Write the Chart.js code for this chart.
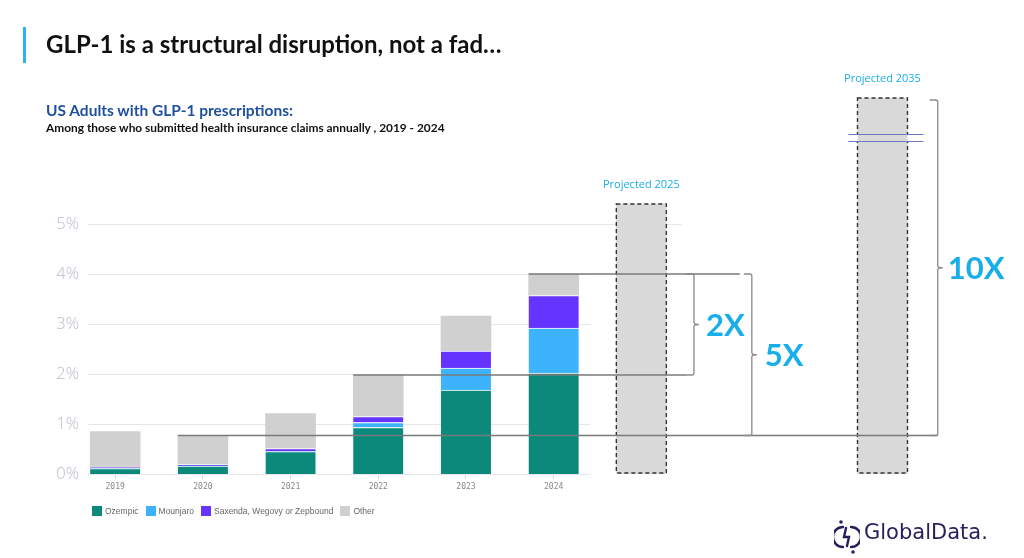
<!DOCTYPE html>
<html>
<head>
<meta charset="utf-8">
<script src="https://cdn.jsdelivr.net/npm/chart.js@4.4.1/dist/chart.umd.min.js"></script>
<style>
  html, body { margin: 0; padding: 0; background: #fff; }
  #wrap { position: relative; width: 1024px; height: 558px; overflow: hidden; }
  #chart { position: absolute; left: 0; top: 0; }
  .accent { position: absolute; left: 23px; top: 27px; width: 3px; height: 36px; background: #2bb3f5; }
  h1 { position: absolute; left: 46px; top: 29px; margin: 0; font: 700 24px Lato, sans-serif; color: #111; white-space: nowrap; }
  h2 { position: absolute; left: 46px; top: 101px; margin: 0; font: 700 15.5px Lato, sans-serif; color: #1f4f9f; white-space: nowrap; }
  h3 { position: absolute; left: 46px; top: 120px; margin: 0; font: 700 11.9px Lato, sans-serif; color: #111; white-space: nowrap; }
  #legend { position: absolute; left: 92px; top: 506px; display: flex; gap: 7px; font: 8.5px "Liberation Sans", Arial, sans-serif; color: #666; }
  #legend span { display: flex; align-items: center; }
  #legend i { display: inline-block; width: 10px; height: 10px; margin-right: 3px; }
  #logo { position: absolute; left: 834px; top: 519px; }
  #logoText { position: absolute; left: 864px; top: 520px; font: 21px "DejaVu Sans", sans-serif; color: #2a1d5c; }
</style>
</head>
<body>
<div id="wrap">
  <canvas id="chart" width="1024" height="558"></canvas>
  <div class="accent"></div>
  <h1>GLP-1 is a structural disruption, not a fad…</h1>
  <h2>US Adults with GLP-1 prescriptions:</h2>
  <h3>Among those who submitted health insurance claims annually , 2019 - 2024</h3>
  <div id="legend"></div>
  <svg id="logo" width="26" height="36" viewBox="0 0 26 36">
    <g fill="none" stroke="#2a1d5c" stroke-width="2.4" stroke-linecap="round">
      <path d="M9 8 A10 10 0 0 0 9 28"/>
      <path d="M17 8 A10 10 0 0 1 17 28"/>
      <path d="M12 9 L10 18 L15 18 L13 27"/>
    </g>
    <circle cx="7" cy="3" r="1.8" fill="#2a1d5c"/>
    <circle cx="19" cy="33" r="1.8" fill="#2a1d5c"/>
  </svg>
  <div id="logoText">GlobalData.</div>
</div>
<script>
// values, % of US adults
const years = [2019, 2020, 2021, 2022, 2023, 2024];
const ozempic = [0.11, 0.16, 0.45, 0.93, 1.68, 2.02];
const mounjaro = [0, 0, 0, 0.10, 0.44, 0.90];
const saxenda = [0.03, 0.03, 0.06, 0.12, 0.34, 0.65];
const other = [0.71, 0.58, 0.70, 0.83, 0.70, 0.43];

const seriesNames = ['Ozempic', 'Mounjaro', 'Saxenda, Wegovy or Zepbound', 'Other'];
const seriesColors = ['#0b8a7c', '#3db3fd', '#6634ff', '#d0d0d0'];

// projections (2035 sits closer in, the axis is broken there)
const projLabels = ['Projected 2025', 'Projected 2035'];
const projSlots = [2025, 2027.75];
const projValues = [5.4, 7.52];

const yTicks = [0, 1, 2, 3, 4, 5];

const blue = '#17aeea';
const bracketGray = '#8a8a8a';

// legend
const legend = document.getElementById('legend');
seriesNames.forEach((n, i) => {
    legend.innerHTML += '<span><i style="background:' + seriesColors[i] + '"></i>' + n + '</span>';
});

const seriesData = [ozempic, mounjaro, saxenda, other];
const totals = years.map((y, i) => seriesData.reduce((s, arr) => s + arr[i], 0));

function drawBracket(ctx, x, yTop, yBot) {
    const mid = (yTop + yBot) / 2;
    ctx.beginPath();
    ctx.moveTo(x - 8, yTop);
    ctx.lineTo(x - 2, yTop);
    ctx.quadraticCurveTo(x, yTop, x, yTop + 2);
    ctx.lineTo(x, mid - 2);
    ctx.quadraticCurveTo(x, mid, x + 5, mid);
    ctx.moveTo(x + 5, mid);
    ctx.quadraticCurveTo(x, mid, x, mid + 2);
    ctx.lineTo(x, yBot - 2);
    ctx.quadraticCurveTo(x, yBot, x - 2, yBot);
    ctx.lineTo(x - 8, yBot);
    ctx.stroke();
}

const overlay = {
    id: 'overlay',
    beforeDatasetsDraw(chart) {
        const {ctx, chartArea, scales: {x, y}} = chart;
        ctx.save();
        ctx.strokeStyle = '#e6e6ec';
        ctx.lineWidth = 1;
        yTicks.forEach(v => {
            const py = Math.round(y.getPixelForValue(v)) + 0.5;
            const right = x.getPixelForValue(v === 5 ? 2025.46 : 2024.42);
            ctx.beginPath();
            ctx.moveTo(chartArea.left, py);
            ctx.lineTo(right, py);
            ctx.stroke();
        });
        ctx.restore();
    },
    afterDatasetsDraw(chart) {
        const {ctx, scales: {x, y}} = chart;
        ctx.save();

        // projected bars: dashed outline + label
        const proj = chart.getDatasetMeta(4);
        proj.data.forEach((bar, i) => {
            const p = bar.getProps(['x', 'y', 'base', 'width'], true);
            ctx.setLineDash([4, 3]);
            ctx.lineWidth = 1.4;
            ctx.strokeStyle = '#333';
            ctx.strokeRect(p.x - p.width / 2, p.y, p.width, p.base - p.y - 1);
            ctx.setLineDash([]);
            ctx.fillStyle = blue;
            ctx.font = '11px "Open Sans", sans-serif';
            ctx.textAlign = 'center';
            ctx.textBaseline = 'middle';
            ctx.fillText(projLabels[i], p.x, p.y - 19);
        });

        // axis break marks on the 2035 bar
        const b35 = proj.data[1].getProps(['x', 'y', 'width'], true);
        ctx.fillStyle = '#fff';
        ctx.fillRect(b35.x - b35.width / 2 - 2, b35.y + 37, b35.width + 4, 6);
        ctx.fillStyle = '#d9d9d9';
        ctx.fillRect(b35.x - b35.width / 2, b35.y + 37, b35.width, 6);
        ctx.strokeStyle = '#7077c0';
        ctx.lineWidth = 1.2;
        [36.5, 43.5].forEach(off => {
            ctx.beginPath();
            ctx.moveTo(b35.x - b35.width / 2 - 9, b35.y + off);
            ctx.lineTo(b35.x + b35.width / 2 + 16, b35.y + off);
            ctx.stroke();
        });

        // reference lines from the 2020, 2022 and 2024 totals
        const top = chart.getDatasetMeta(3);
        const lineFrom = (yr) => {
            const p = top.data[years.indexOf(yr)].getProps(['x', 'width'], true);
            return p.x - p.width / 2;
        };
        const y20 = y.getPixelForValue(totals[years.indexOf(2020)]);
        const y22 = y.getPixelForValue(totals[years.indexOf(2022)]);
        const y24 = y.getPixelForValue(totals[years.indexOf(2024)]);
        const x2 = x.getPixelForValue(2025.6);
        const x5 = x.getPixelForValue(2026.26);
        const x10 = x.getPixelForValue(2028.38);
        const yTop35 = b35.y + 2;

        ctx.strokeStyle = '#7a7a7a';
        ctx.lineWidth = 1.3;
        [[lineFrom(2020), y20, x10], [lineFrom(2022), y22, x2 - 8], [lineFrom(2024), y24, x5 - 12]]
            .forEach(([x0, py, x1]) => {
                ctx.beginPath();
                ctx.moveTo(x0, py);
                ctx.lineTo(x1, py);
                ctx.stroke();
            });

        ctx.strokeStyle = bracketGray;
        ctx.lineWidth = 1.3;
        drawBracket(ctx, x2, y24, y22);
        drawBracket(ctx, x5, y24, y20);
        drawBracket(ctx, x10, yTop35, y20);

        ctx.fillStyle = blue;
        ctx.font = '700 31px Lato, sans-serif';
        ctx.textAlign = 'left';
        ctx.textBaseline = 'middle';
        ctx.fillText('2X', x2 + 12, (y24 + y22) / 2 + 1);
        ctx.fillText('5X', x5 + 13, (y24 + y20) / 2 + 1);
        ctx.fillText('10X', x10 + 10, (yTop35 + y20) / 2 + 1);

        ctx.restore();
    }
};

const datasets = seriesNames.map((name, i) => ({
    label: name,
    data: years.map((yr, j) => ({x: yr, y: seriesData[i][j]})),
    backgroundColor: seriesColors[i],
    borderColor: '#fff',
    borderWidth: i < 3 ? {top: 1, left: 0, right: 0, bottom: 0} : 0,
    borderSkipped: false,
    barThickness: 50
}));
datasets.push({
    label: 'Projected',
    data: projSlots.map((s, i) => ({x: s, y: projValues[i]})),
    backgroundColor: '#d9d9d9',
    borderWidth: 0,
    barThickness: 50
});

new Chart(document.getElementById('chart'), {
    type: 'bar',
    data: {datasets},
    options: {
        responsive: false,
        animation: false,
        events: [],
        layout: {padding: {top: 74, right: 24, left: 0, bottom: 0}},
        plugins: {legend: {display: false}, tooltip: {enabled: false}},
        scales: {
            x: {
                type: 'linear',
                offset: false,
                stacked: true,
                min: 2018.69,
                max: 2029.09,
                afterBuildTicks: (s) => { s.ticks = years.map(v => ({value: v})); },
                afterFit: (s) => { s.height = 84; },
                ticks: {
                    callback: (v) => String(v),
                    color: '#888',
                    font: {family: '"DejaVu Sans Mono", monospace', size: 8},
                    padding: 3
                },
                grid: {offset: false, drawOnChartArea: false, drawTicks: true, tickLength: 5, color: '#d8d8d8'},
                border: {display: false}
            },
            y: {
                stacked: true,
                min: 0,
                max: 8,
                afterBuildTicks: (s) => { s.ticks = yTicks.map(v => ({value: v})); },
                afterFit: (s) => { s.width = 88; },
                ticks: {
                    callback: (v) => v + '%',
                    color: '#b8bcc9',
                    font: {family: '"Open Sans", sans-serif', size: 16.5, weight: 300},
                    padding: 9
                },
                grid: {display: false, drawTicks: false},
                border: {display: false}
            }
        }
    },
    plugins: [overlay]
});
</script>
</body>
</html>
